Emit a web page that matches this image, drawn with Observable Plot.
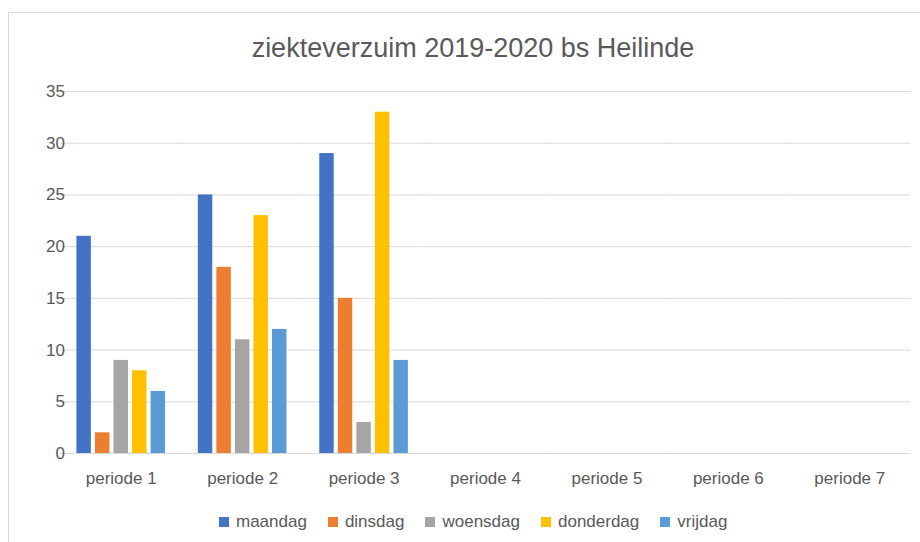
<!DOCTYPE html>
<html>
<head>
<meta charset="utf-8">
<script src="https://cdn.jsdelivr.net/npm/d3@7"></script>
<script src="https://cdn.jsdelivr.net/npm/@observablehq/plot@0.6"></script>
<style>
  html, body { margin: 0; padding: 0; background: #fff; }
  body { width: 920px; height: 542px; overflow: hidden; position: relative; font-family: "Liberation Sans", Arial, sans-serif; }
  #frame { position: absolute; left: 8px; top: 12px; width: 1000px; height: 1000px; border: 1px solid #d9d9d9; box-sizing: border-box; }
  #title { position: absolute; left: 0; top: 32px; width: 946px; text-align: center; font-size: 27px; color: #595959; white-space: nowrap; line-height: 32px; }
  #chart { position: absolute; left: 0; top: 70px; }
  #legend { position: absolute; left: 219px; top: 512px; display: flex; align-items: center; font-size: 17px; color: #595959; line-height: 20px; }
  .item { display: flex; align-items: center; margin-right: 21px; }
  .sw { width: 10px; height: 10px; margin-right: 7px; }
</style>
</head>
<body>
<div id="frame"></div>
<div id="title">ziekteverzuim 2019-2020 bs Heilinde</div>
<div id="chart"></div>
<div id="legend"></div>
<script>
const periods = ["periode 1", "periode 2", "periode 3", "periode 4", "periode 5", "periode 6", "periode 7"];
const days = ["maandag", "dinsdag", "woensdag", "donderdag", "vrijdag"];
const colors = ["#4472C4", "#ED7D31", "#A5A5A5", "#FFC000", "#5B9BD5"];
const maandag = [21, 25, 29];
const dinsdag = [2, 18, 15];
const woensdag = [9, 11, 3];
const donderdag = [8, 23, 33];
const vrijdag = [6, 12, 9];
const yTicks = [0, 5, 10, 15, 20, 25, 30, 35];

const series = {maandag, dinsdag, woensdag, donderdag, vrijdag};
const rows = [];
days.forEach(d => series[d].forEach((v, i) => rows.push({periode: periods[i], dag: d, value: v})));
const gridRows = [];
periods.forEach(p => yTicks.forEach(t => gridRows.push({periode: p, tick: t})));

const W = 920, ML = 60, MR = 10, PI = 0.27, PO = 0.135;
const step = (W - ML - MR) / (periods.length - PI + 2 * PO);
const halfGap = step * PO + 0.5;

const chart = Plot.plot({
  width: W,
  height: 423,
  marginLeft: ML,
  marginRight: MR,
  marginTop: 21,
  marginBottom: 40,
  style: {fontFamily: "Liberation Sans, Arial, sans-serif", fontSize: "17px", color: "#595959", background: "transparent"},
  fx: {domain: periods, paddingInner: PI, paddingOuter: PO, label: null, round: false},
  x: {domain: days, paddingInner: 0.22, paddingOuter: 0, axis: null, round: false},
  y: {domain: [0, 35], label: null},
  color: {domain: days, range: colors},
  marks: [
    Plot.ruleY(gridRows, {fx: "periode", y: "tick", stroke: "#d9d9d9", strokeWidth: 1, insetLeft: -halfGap, insetRight: -halfGap}),
    Plot.axisY(yTicks, {tickSize: 0, tickPadding: 12, label: null, fontSize: 17}),
    Plot.axisFx({anchor: "bottom", tickSize: 0, tickPadding: 18, label: null, fontSize: 17}),
    Plot.barY(rows, {fx: "periode", x: "dag", y: "value", fill: "dag"})
  ]
});
document.getElementById("chart").appendChild(chart);

const legend = document.getElementById("legend");
days.forEach((d, i) => {
  const item = document.createElement("div");
  item.className = "item";
  const sw = document.createElement("div");
  sw.className = "sw";
  sw.style.background = colors[i];
  const t = document.createElement("span");
  t.textContent = d;
  item.appendChild(sw);
  item.appendChild(t);
  legend.appendChild(item);
});
</script>
</body>
</html>
